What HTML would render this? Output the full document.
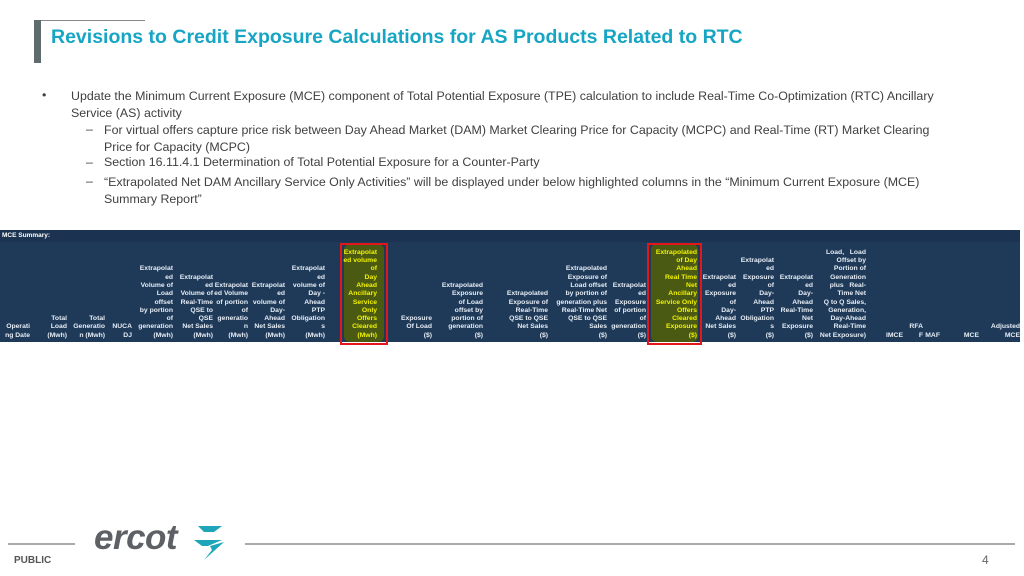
<!DOCTYPE html>
<html><head><meta charset="utf-8">
<style>
body{margin:0;width:1024px;height:576px;position:relative;background:#fff;overflow:hidden;font-family:"Liberation Sans",sans-serif;}
.abs{position:absolute;}
.title{left:51px;top:26px;font-size:19.5px;font-weight:bold;color:#17a5c4;white-space:nowrap;}
.txt{font-size:12.4px;color:#404040;white-space:nowrap;}
#tbl{left:0;top:230px;width:1020px;height:112px;background:#1f3a58;}
#tbl .hdr{left:2px;top:2px;font-size:6.5px;font-weight:bold;color:#fff;}
.col{position:absolute;bottom:2px;text-align:right;font-size:6.8px;line-height:8.3px;font-weight:bold;color:#e6edf5;white-space:nowrap;}
.hl{color:#f2f200;}
.blob{position:absolute;background:#4a5a12;border-radius:6px;}
.rbox{position:absolute;border:2.5px solid #e3161b;}
</style></head><body>
<div class="abs" style="left:34px;top:20px;width:7px;height:43px;background:#5f6b6d"></div>
<div class="abs" style="left:41px;top:20px;width:104px;height:1px;background:#888"></div>
<div class="abs title">Revisions to Credit Exposure Calculations for AS Products Related to RTC</div>

<div class="abs txt" style="left:42px;top:88px">•</div>
<div class="abs txt" style="left:71px;top:88px;line-height:17px">Update the Minimum Current Exposure (MCE) component of Total Potential Exposure (TPE) calculation to include Real-Time Co-Optimization (RTC) Ancillary<br>Service (AS) activity</div>
<div class="abs txt" style="left:86px;top:122px">–</div>
<div class="abs txt" style="left:104px;top:122px;line-height:17px">For virtual offers capture price risk between Day Ahead Market (DAM) Market Clearing Price for Capacity (MCPC) and Real-Time (RT) Market Clearing<br>Price for Capacity (MCPC)</div>
<div class="abs txt" style="left:86px;top:155px">–</div>
<div class="abs txt" style="left:104px;top:155px">Section 16.11.4.1 Determination of Total Potential Exposure for a Counter-Party</div>
<div class="abs txt" style="left:86px;top:174px">–</div>
<div class="abs txt" style="left:104px;top:174px;line-height:17px">“Extrapolated Net DAM Ancillary Service Only Activities” will be displayed under below highlighted columns in the “Minimum Current Exposure (MCE)<br>Summary Report”</div>

<div class="abs" id="tbl">
 <div class="abs" style="left:0;top:0;width:1020px;height:12px;background:#1b3350"></div>
 <div class="abs hdr">MCE Summary:</div>
 <div class="blob" style="left:344px;top:14px;width:40px;height:98px"></div>
 <div class="blob" style="left:651px;top:14px;width:47px;height:98px"></div>
 <div class="col" style="right:990px">Operati<br>ng Date</div>
 <div class="col" style="right:953px">Total<br>Load<br>(Mwh)</div>
 <div class="col" style="right:915px">Total<br>Generatio<br>n (Mwh)</div>
 <div class="col" style="right:888px">NUCA<br>DJ</div>
 <div class="col" style="right:847px">Extrapolat<br>ed<br>Volume of<br>Load<br>offset<br>by portion<br>of<br>generation<br>(Mwh)</div>
 <div class="col" style="right:807px">Extrapolat<br>ed<br>Volume of<br>Real-Time<br>QSE to<br>QSE<br>Net Sales<br>(Mwh)</div>
 <div class="col" style="right:772px">Extrapolat<br>ed Volume<br>of portion<br>of<br>generatio<br>n<br>(Mwh)</div>
 <div class="col" style="right:735px">Extrapolat<br>ed<br>volume of<br>Day-<br>Ahead<br>Net Sales<br>(Mwh)</div>
 <div class="col" style="right:695px">Extrapolat<br>ed<br>volume of<br>Day -<br>Ahead<br>PTP<br>Obligation<br>s<br>(Mwh)</div>
 <div class="col hl" style="right:643px">Extrapolat<br>ed volume<br>of<br>Day<br>Ahead<br>Ancillary<br>Service<br>Only<br>Offers<br>Cleared<br>(Mwh)</div>
 <div class="col" style="right:588px">Exposure<br>Of Load<br>($)</div>
 <div class="col" style="right:537px">Extrapolated<br>Exposure<br>of Load<br>offset by<br>portion of<br>generation<br>($)</div>
 <div class="col" style="right:472px">Extrapolated<br>Exposure of<br>Real-Time<br>QSE to QSE<br>Net Sales<br>($)</div>
 <div class="col" style="right:413px">Extrapolated<br>Exposure of<br>Load offset<br>by portion of<br>generation plus<br>Real-Time Net<br>QSE to QSE<br>Sales<br>($)</div>
 <div class="col" style="right:374px">Extrapolat<br>ed<br>Exposure<br>of portion<br>of<br>generation<br>($)</div>
 <div class="col hl" style="right:323px">Extrapolated<br>of Day<br>Ahead<br>Real Time<br>Net<br>Ancillary<br>Service Only<br>Offers<br>Cleared<br>Exposure<br>($)</div>
 <div class="col" style="right:284px">Extrapolat<br>ed<br>Exposure<br>of<br>Day-<br>Ahead<br>Net Sales<br>($)</div>
 <div class="col" style="right:246px">Extrapolat<br>ed<br>Exposure<br>of<br>Day-<br>Ahead<br>PTP<br>Obligation<br>s<br>($)</div>
 <div class="col" style="right:207px">Extrapolat<br>ed<br>Day-<br>Ahead<br>Real-Time<br>Net<br>Exposure<br>($)</div>
 <div class="col" style="right:154px">Load,&nbsp;&nbsp;&nbsp;Load<br>Offset by<br>Portion of<br>Generation<br>plus&nbsp;&nbsp;&nbsp;Real-<br>Time Net<br>Q to Q Sales,<br>Generation,<br>Day-Ahead<br>Real-Time<br>Net Exposure)</div>
 <div class="col" style="right:117px">IMCE</div>
 <div class="col" style="right:97px">RFA<br>F</div>
 <div class="col" style="right:80px">MAF</div>
 <div class="col" style="right:41px">MCE</div>
 <div class="col" style="right:0px">Adjusted<br>MCE</div>
 <div class="rbox" style="left:340px;top:13px;width:44px;height:98px"></div>
 <div class="rbox" style="left:647px;top:13px;width:51px;height:98px"></div>
</div>

<div class="abs" style="left:8px;top:543px;width:67px;height:2px;background:#aaa"></div>
<div class="abs" style="left:245px;top:543px;width:770px;height:2px;background:#aaa"></div>
<div class="abs" style="left:94px;top:518px;font-size:35px;font-style:italic;font-weight:bold;color:#5d6165;letter-spacing:-0.5px">ercot</div>
<svg class="abs" style="left:192px;top:524px" width="34" height="38" viewBox="0 0 34 38">
 <path d="M6 2 H30 L22 8 H12 L16 12 Z" fill="#1ea5b8"/>
 <path d="M2 16 H30 L16 22 H10 Z" fill="#1ea5b8"/>
 <path d="M18 22 L32 18 L12 36 L20 26 Z" fill="#1ea5b8"/>
</svg>
<div class="abs" style="left:14px;top:555px;font-size:10px;font-weight:bold;color:#555">PUBLIC</div>
<div class="abs" style="left:982px;top:553px;font-size:12px;color:#666">4</div>
</body></html>
